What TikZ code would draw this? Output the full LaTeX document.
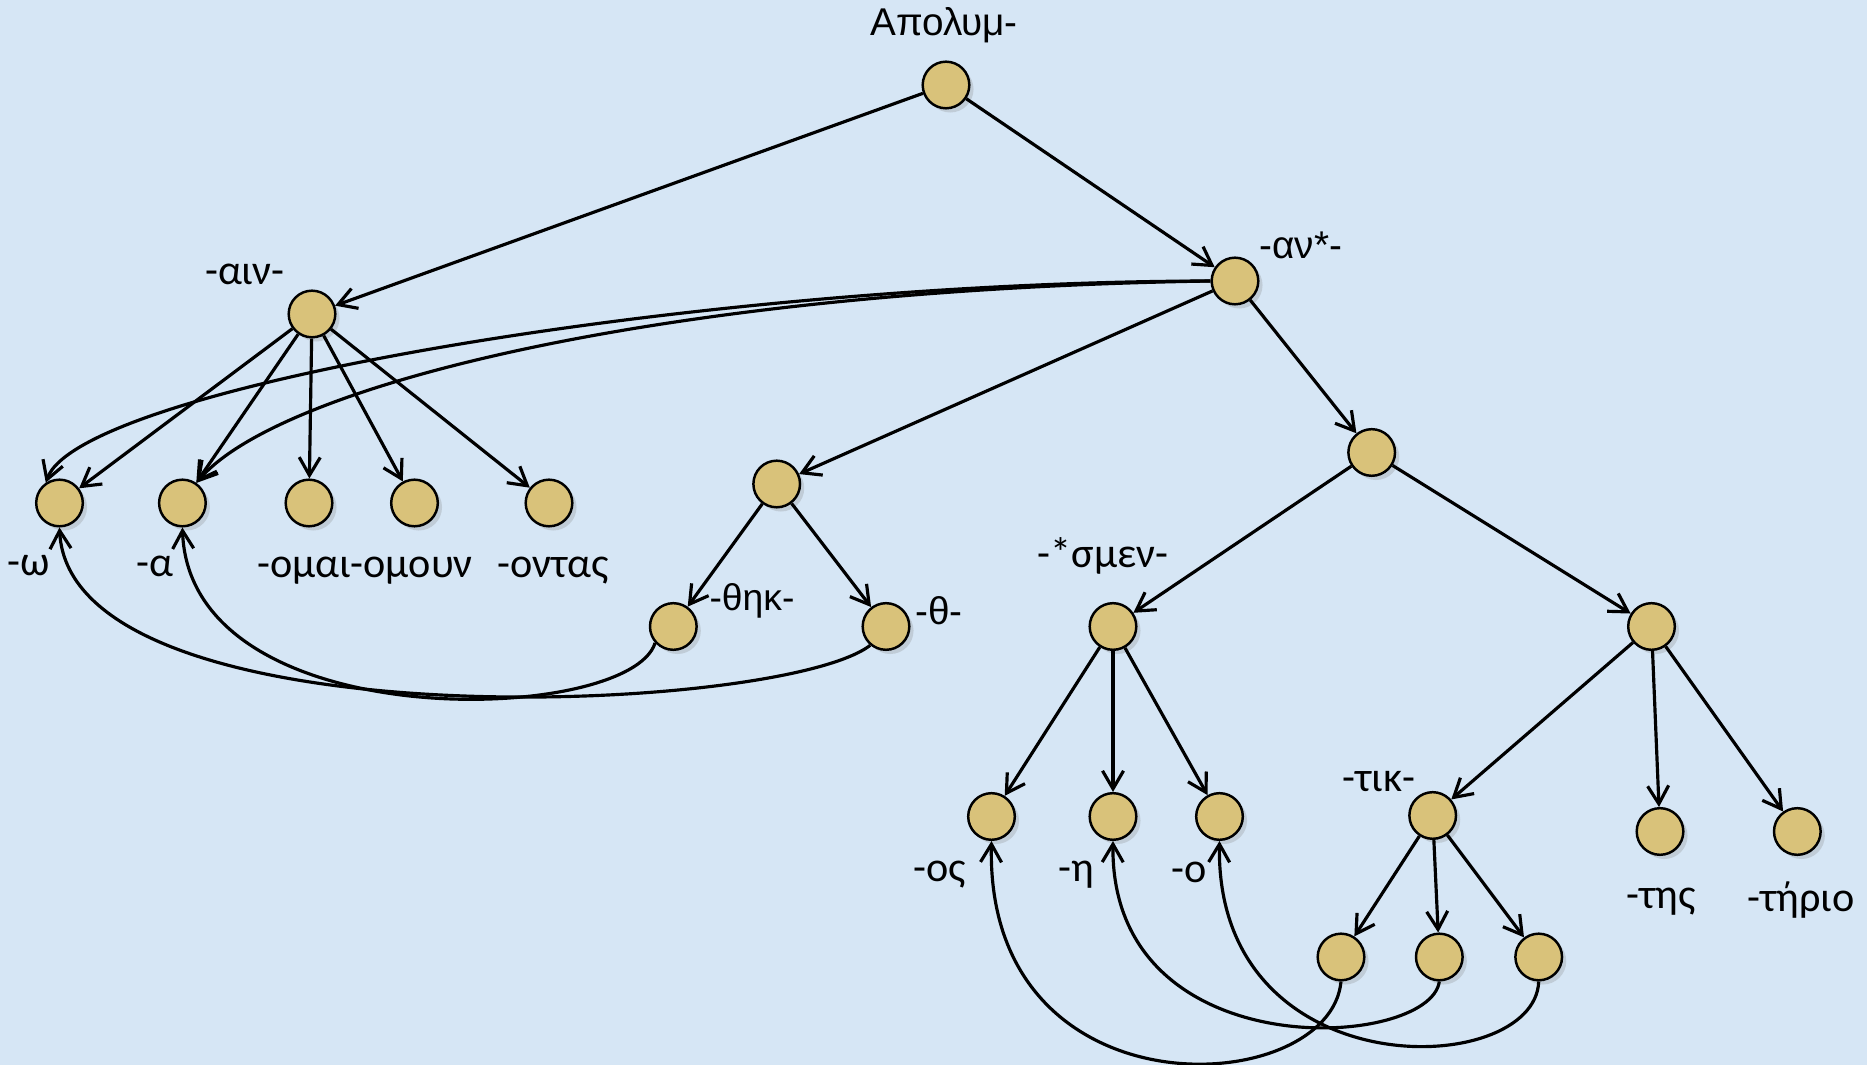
\documentclass[tikz,border=0pt]{standalone}
\usepackage{fontspec}
\setmainfont{Carlito}
\newfontfamily\arialf{Liberation Sans}
\usetikzlibrary{arrows.meta,shadows}
\definecolor{bgblue}{RGB}{214,230,245}
\definecolor{nodefill}{RGB}{217,194,122}
\tikzset{
  dot/.style={circle, draw=black, line width=0.7pt, fill=nodefill, minimum size=0.466cm, inner sep=0pt,
    drop shadow={shadow xshift=1.2pt, shadow yshift=-1.2pt, opacity=0.25}},
  arr/.style={line width=0.9pt, -{Straight Barb[length=1.8mm,width=2.1mm,line width=0.9pt]}},
  lblc/.style={font=\fontsize{12}{14}\selectfont, inner sep=0pt},
  lbla/.style={font=\arialf\fontsize{11}{13}\selectfont, inner sep=0pt}
}
\begin{document}
\begin{tikzpicture}[x=0.01cm, y=-0.01cm]
\fill[bgblue] (0,0) rectangle (1867,1065);
\useasboundingbox (0,0) rectangle (1867,1065);
% nodes
\node[dot] (root) at (946,85) {};
\node[dot] (ain) at (312,314) {};
\node[dot] (an) at (1235,281) {};
\node[dot] (w) at (59.5,503) {};
\node[dot] (a) at (182.4,503) {};
\node[dot] (omai) at (309,503) {};
\node[dot] (omoun) at (414.5,503) {};
\node[dot] (ontas) at (549,503) {};
\node[dot] (thp) at (776.7,484) {};
\node[dot] (thik) at (673.3,626.5) {};
\node[dot] (th) at (886,626.5) {};
\node[dot] (rm) at (1371.7,452.5) {};
\node[dot] (smen) at (1113,626.5) {};
\node[dot] (r2) at (1651.5,626.5) {};
\node[dot] (os) at (991.5,816.5) {};
\node[dot] (eta) at (1113,816.5) {};
\node[dot] (o) at (1219.5,816.5) {};
\node[dot] (tik) at (1432.7,815.5) {};
\node[dot] (tis) at (1660,831.5) {};
\node[dot] (tirio) at (1797.3,831.5) {};
\node[dot] (t1) at (1341,957) {};
\node[dot] (t2) at (1439.3,957) {};
\node[dot] (t3) at (1538.7,957) {};
% labels
\node[lbla] (lroot) at (944,25) {Απολυμ-};
\node[lbla] (lan) at (1301,245) {-αν*-};
\node[lblc] (lain) at (245,274) {-αιν-};
\node[lblc] (lw) at (29,566) {-ω};
\node[lblc] (la) at (155,566) {-α};
\node[lblc] (lomai) at (365,571) {-ομαι-ομουν};
\node[lblc] (lontas) at (553,571) {-οντας};
\node[lbla, font=\arialf\fontsize{10.6}{12}\selectfont] (lthik) at (752,601) {-θηκ-};
\node[lbla] (lth) at (939,611) {-θ-};
\node[lblc] (lsmen) at (1103,556) {-*σμεν-};
\node[lblc] (ltik) at (1379,782) {-τικ-};
\node[lblc] (los) at (940,875) {-ος};
\node[lblc] (leta) at (1076,875) {-η};
\node[lblc] (lo) at (1189,872) {-ο};
\node[lblc] (ltis) at (1661,902) {-της};
\node[lblc] (ltirio) at (1801,900) {-τήριο};
% straight edges
\draw[arr] (root) -- (ain);
\draw[arr] (root) -- (an);
\draw[arr] (ain) -- (w);
\draw[arr] (ain) -- (a);
\draw[arr] (ain) -- (omai);
\draw[arr] (ain) -- (omoun);
\draw[arr] (ain) -- (ontas);
\draw[arr] (an) -- (thp);
\draw[arr] (an) -- (rm);
\draw[arr] (thp) -- (thik);
\draw[arr] (thp) -- (th);
\draw[arr] (rm) -- (smen);
\draw[arr] (rm) -- (r2);
\draw[arr] (smen) -- (os);
\draw[arr] (smen) -- (eta);
\draw[arr] (smen) -- (o);
\draw[arr] (r2) -- (tik);
\draw[arr] (r2) -- (tis);
\draw[arr] (r2) -- (tirio);
\draw[arr] (tik) -- (t1);
\draw[arr] (tik) -- (t2);
\draw[arr] (tik) -- (t3);
% curved edges
\draw[arr] (an.180) .. controls (700,282) and (80,387) .. (w.124);
\draw[arr] (an.180) .. controls (650,290) and (276,388) .. (a.55);
\draw[arr] (th.230) .. controls (780,715) and (70,745) .. (w.south);
\draw[arr] (thik.222) .. controls (630,725) and (190,740) .. (a.south);
\draw[arr] (t1.south) .. controls (1330,1100) and (985,1120) .. (os.south);
\draw[arr] (t2.south) .. controls (1430,1050) and (1110,1070) .. (eta.south);
\draw[arr] (t3.south) .. controls (1535,1080) and (1215,1090) .. (o.south);
\end{tikzpicture}
\end{document}
